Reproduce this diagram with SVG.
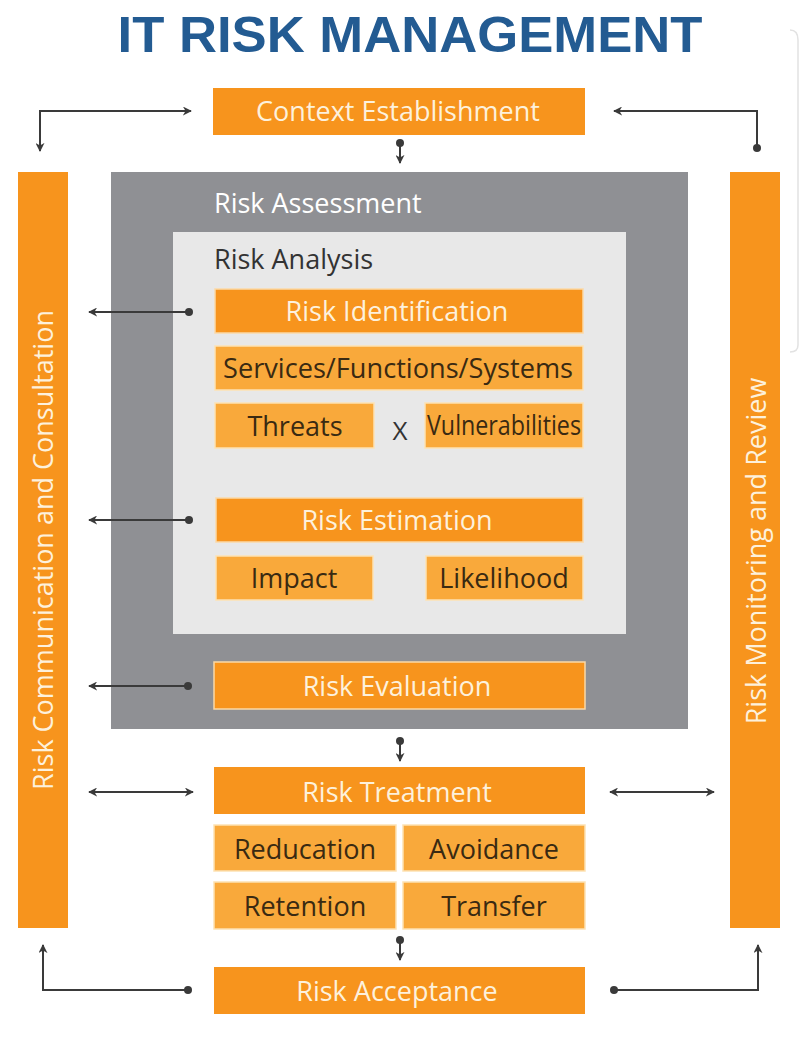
<svg xmlns="http://www.w3.org/2000/svg" width="800" height="1045" viewBox="0 0 800 1045">
<style>
  .t{font-family:"Open Sans","Noto Sans","Liberation Sans",sans-serif;}
  .main{fill:#f7941d;}
  .sub{fill:#f9a93b;stroke:#fde2b4;stroke-width:1.5;}
  .hdr{fill:#f7941d;stroke:#fbd9a6;stroke-width:1.5;}
  .wt{fill:#fdf1dc;font-size:27px;text-anchor:middle;}
  .dt{fill:#3a2a12;font-size:27px;text-anchor:middle;}
  .ln{fill:none;stroke:#3a3a3a;stroke-width:2;}
  .dot{fill:#3a3a3a;}
</style>
<defs>
  <marker id="ah" viewBox="0 0 10 10" refX="9" refY="5" markerWidth="9" markerHeight="9" orient="auto-start-reverse" markerUnits="userSpaceOnUse">
    <path d="M0,0 L10,5 L0,10 L3,5 Z" fill="#3a3a3a"/>
  </marker>
</defs>
<rect width="800" height="1045" fill="#ffffff"/>
<path d="M790,30 Q798,30 798,40 L798,345 Q798,352 790,352" fill="none" stroke="#e2e2e2" stroke-width="1.5"/>

<text id="title" class="t" x="410" y="52" text-anchor="middle" font-size="50" font-weight="bold" fill="#235b92" textLength="585" lengthAdjust="spacingAndGlyphs" style="font-family:'Liberation Sans',Arial,sans-serif">IT RISK MANAGEMENT</text>

<g id="context"><rect class="main" x="213" y="88" width="372" height="47"/><text class="t wt" x="398" y="121">Context Establishment</text></g>

<g id="comm"><rect class="main" x="18" y="172" width="50" height="756"/><text class="t wt" transform="translate(53,550) rotate(-90)" font-size="24">Risk Communication and Consultation</text></g>
<g id="monitor"><rect class="main" x="730" y="172" width="50" height="756"/><text class="t wt" transform="translate(766,551) rotate(-90)" font-size="24">Risk Monitoring and Review</text></g>

<g id="assessment"><rect x="111" y="172" width="577" height="557" fill="#8f9094"/><text class="t" x="214" y="213" font-size="27" fill="#ffffff">Risk Assessment</text></g>
<g id="analysis"><rect x="173" y="232" width="453" height="402" fill="#e8e8e8"/><text class="t" x="214" y="269" font-size="27" fill="#333333">Risk Analysis</text></g>

<g id="identification"><rect class="hdr" x="215" y="289" width="368" height="44"/><text class="t wt" x="397" y="321">Risk Identification</text></g>
<g id="services"><rect class="sub" x="215" y="346" width="368" height="44"/><text class="t dt" x="398" y="378" textLength="350" lengthAdjust="spacingAndGlyphs">Services/Functions/Systems</text></g>
<g id="threats"><rect class="sub" x="215" y="403" width="159" height="45"/><text class="t dt" x="295" y="436">Threats</text></g>
<text id="x" class="t" x="400" y="440" font-size="26" fill="#333333" text-anchor="middle">X</text>
<g id="vuln"><rect class="sub" x="425" y="403" width="158" height="45"/><text class="t dt" x="504" y="435" font-size="22" textLength="154" lengthAdjust="spacingAndGlyphs">Vulnerabilities</text></g>

<g id="estimation"><rect class="hdr" x="216" y="498" width="367" height="44"/><text class="t wt" x="397" y="530">Risk Estimation</text></g>
<g id="impact"><rect class="sub" x="216" y="556" width="157" height="44"/><text class="t dt" x="294" y="588">Impact</text></g>
<g id="likelihood"><rect class="sub" x="426" y="556" width="157" height="44"/><text class="t dt" x="504" y="588">Likelihood</text></g>

<g id="evaluation"><rect class="hdr" x="214" y="662" width="371" height="47"/><text class="t wt" x="397" y="696">Risk Evaluation</text></g>

<g id="treatment"><rect class="main" x="214" y="767" width="371" height="47"/><text class="t wt" x="397" y="802">Risk Treatment</text></g>
<g id="reduction"><rect class="sub" x="214" y="825" width="182" height="46"/><text class="t dt" x="305" y="859">Reducation</text></g>
<g id="avoidance"><rect class="sub" x="403" y="825" width="182" height="46"/><text class="t dt" x="494" y="859">Avoidance</text></g>
<g id="retention"><rect class="sub" x="214" y="882" width="182" height="47"/><text class="t dt" x="305" y="916">Retention</text></g>
<g id="transfer"><rect class="sub" x="403" y="882" width="182" height="47"/><text class="t dt" x="494" y="916">Transfer</text></g>

<g id="acceptance"><rect class="main" x="214" y="967" width="371" height="47"/><text class="t wt" x="397" y="1001">Risk Acceptance</text></g>

<g id="connectors">
  <path class="ln" d="M40,151 L40,111 L191,111" marker-start="url(#ah)" marker-end="url(#ah)"/>
  <path class="ln" d="M757,148 L757,111 L614,111" marker-end="url(#ah)"/>
  <circle class="dot" cx="757" cy="148" r="4"/>
  <path class="ln" d="M400,143 L400,163" marker-end="url(#ah)"/>
  <circle class="dot" cx="400" cy="143" r="4"/>

  <path class="ln" d="M189,312 L89,312" marker-end="url(#ah)"/>
  <circle class="dot" cx="189" cy="312" r="4"/>
  <path class="ln" d="M189,520 L89,520" marker-end="url(#ah)"/>
  <circle class="dot" cx="189" cy="520" r="4"/>
  <path class="ln" d="M188,686 L89,686" marker-end="url(#ah)"/>
  <circle class="dot" cx="188" cy="686" r="4"/>

  <path class="ln" d="M400,741 L400,761" marker-end="url(#ah)"/>
  <circle class="dot" cx="400" cy="741" r="4"/>
  <path class="ln" d="M89,792 L193,792" marker-start="url(#ah)" marker-end="url(#ah)"/>
  <path class="ln" d="M610,792 L714,792" marker-start="url(#ah)" marker-end="url(#ah)"/>

  <path class="ln" d="M400,940 L400,960" marker-end="url(#ah)"/>
  <circle class="dot" cx="400" cy="940" r="4"/>

  <path class="ln" d="M188,990 L43,990 L43,945" marker-end="url(#ah)"/>
  <circle class="dot" cx="188" cy="990" r="4"/>
  <path class="ln" d="M614,990 L758,990 L758,945" marker-end="url(#ah)"/>
  <circle class="dot" cx="614" cy="990" r="4"/>
</g>
</svg>
